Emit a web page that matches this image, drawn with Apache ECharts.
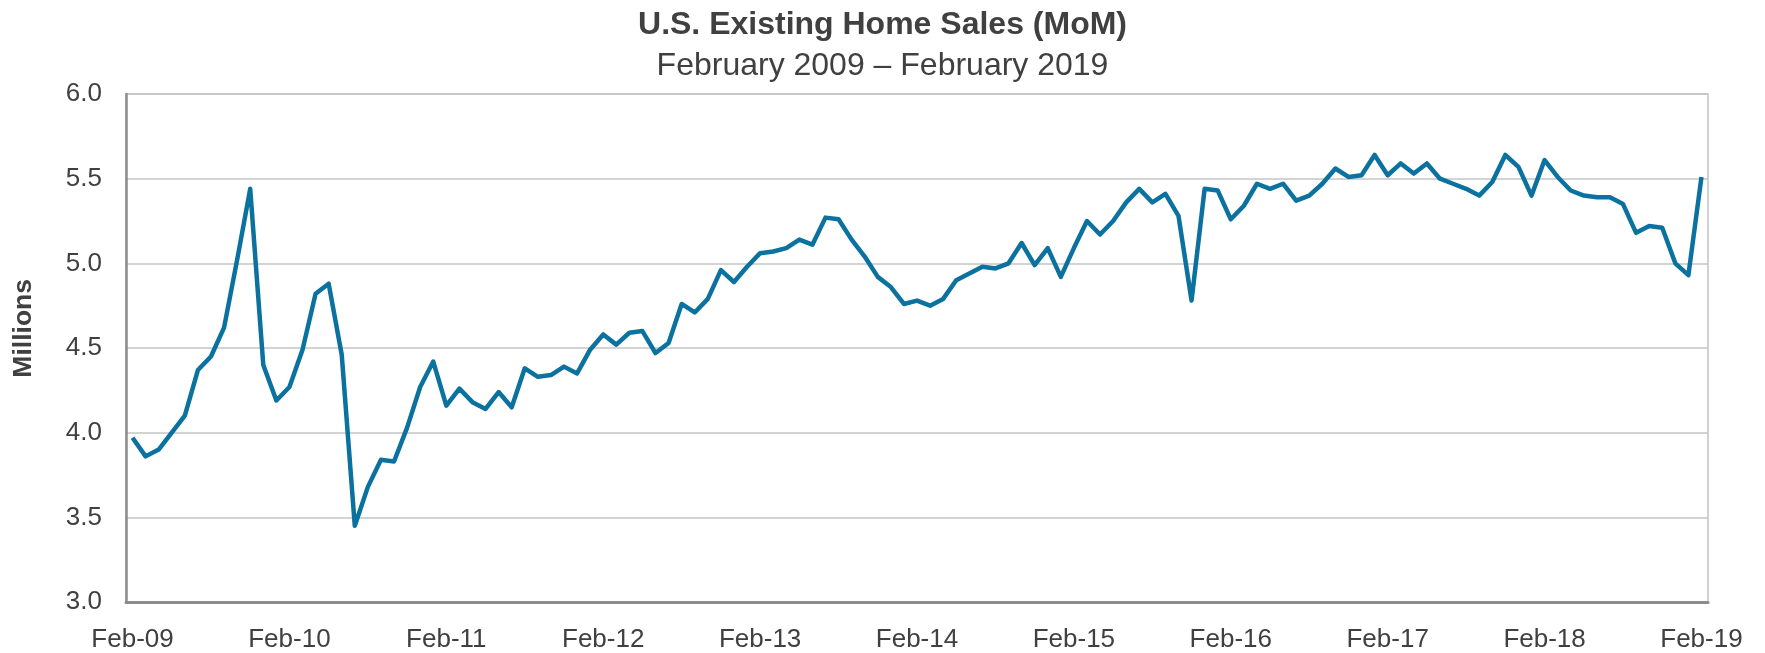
<!DOCTYPE html>
<html>
<head>
<meta charset="utf-8">
<title>U.S. Existing Home Sales (MoM)</title>
<script src="https://cdn.jsdelivr.net/npm/echarts@6/dist/echarts.min.js"></script>
<style>
  html, body { margin: 0; padding: 0; background: #fff; }
  #chart { width: 1765px; height: 653px; }
</style>
</head>
<body>
<div id="chart"></div>
<script>
// monthly existing home sales, millions (SAAR), Feb-09 .. Feb-19
var startYear = 2009;
var startMonth = 1; // Feb (0-based)
var monthNames = ["Jan", "Feb", "Mar", "Apr", "May", "Jun", "Jul", "Aug", "Sep", "Oct", "Nov", "Dec"];

var sales = [
  3.97, 3.86, 3.90, 4.00, 4.10, 4.37, 4.45, 4.62, 5.02, 5.44, 4.40, 4.19,
  4.27, 4.49, 4.82, 4.88, 4.46, 3.45, 3.68, 3.84, 3.83, 4.03, 4.27, 4.42,
  4.16, 4.26, 4.18, 4.14, 4.24, 4.15, 4.38, 4.33, 4.34, 4.39, 4.35, 4.49,
  4.58, 4.52, 4.59, 4.60, 4.47, 4.53, 4.76, 4.71, 4.79, 4.96, 4.89, 4.98,
  5.06, 5.07, 5.09, 5.14, 5.11, 5.27, 5.26, 5.14, 5.04, 4.92, 4.86, 4.76,
  4.78, 4.75, 4.79, 4.90, 4.94, 4.98, 4.97, 5.00, 5.12, 4.99, 5.09, 4.92,
  5.09, 5.25, 5.17, 5.25, 5.36, 5.44, 5.36, 5.41, 5.28, 4.78, 5.44, 5.43,
  5.26, 5.34, 5.47, 5.44, 5.47, 5.37, 5.40, 5.47, 5.56, 5.51, 5.52, 5.64,
  5.52, 5.59, 5.53, 5.59, 5.50, 5.47, 5.44, 5.40, 5.48, 5.64, 5.57, 5.40,
  5.61, 5.51, 5.43, 5.40, 5.39, 5.39, 5.35, 5.18, 5.22, 5.21, 5.00, 4.93,
  5.51
];

var yTicks = { min: 3.0, max: 6.0, interval: 0.5 };

// category labels like "Feb-09"
var months = [];
for (var i = 0; i < sales.length; i++) {
  var m = (startMonth + i) % 12;
  var y = startYear + Math.floor((startMonth + i) / 12);
  months.push(monthNames[m] + "-" + String(y).slice(2));
}

var font = "'Liberation Sans', Arial, sans-serif";
var textColor = "#404040";

var chart = echarts.init(document.getElementById("chart"));
var option = {
  animation: false,
  title: {
    text: "U.S. Existing Home Sales (MoM)",
    subtext: "February 2009 \u2013 February 2019",
    left: "center",
    top: 4,
    itemGap: 9,
    textStyle: { fontFamily: font, fontSize: 32, fontWeight: "bold", color: textColor },
    subtextStyle: { fontFamily: font, fontSize: 32, color: textColor }
  },
  grid: {
    left: 126,
    right: 57,
    top: 94,
    bottom: 50,
    show: true,
    borderColor: "#c4c4c4",
    borderWidth: 1.5
  },
  xAxis: {
    type: "category",
    boundaryGap: true,
    data: months,
    axisLine: { lineStyle: { color: "#8c8c8c", width: 3 } },
    axisTick: { show: false },
    axisLabel: {
      interval: 11,
      margin: 25,
      fontFamily: font,
      fontSize: 26,
      color: textColor
    },
    splitLine: { show: false }
  },
  yAxis: {
    type: "value",
    min: yTicks.min,
    max: yTicks.max,
    interval: yTicks.interval,
    axisLine: { show: true, lineStyle: { color: "#8c8c8c", width: 2.5 } },
    axisTick: { show: false },
    axisLabel: {
      margin: 24,
      fontFamily: font,
      fontSize: 26,
      color: textColor,
      formatter: function (v) { return v.toFixed(1); }
    },
    splitLine: { lineStyle: { color: "#c4c4c4", width: 1.5 } }
  },
  graphic: [
    {
      type: "text",
      left: 10,
      top: 279,
      rotation: Math.PI / 2,
      style: {
        text: "Millions",
        fontFamily: font,
        fontSize: 26.5,
        fontWeight: "bold",
        fill: textColor
      }
    }
  ],
  series: [
    {
      type: "line",
      data: sales,
      showSymbol: false,
      lineStyle: { color: "#0b72a0", width: 4.5, join: "round" },
      itemStyle: { color: "#0b72a0" }
    }
  ]
};
chart.setOption(option);
</script>
</body>
</html>
